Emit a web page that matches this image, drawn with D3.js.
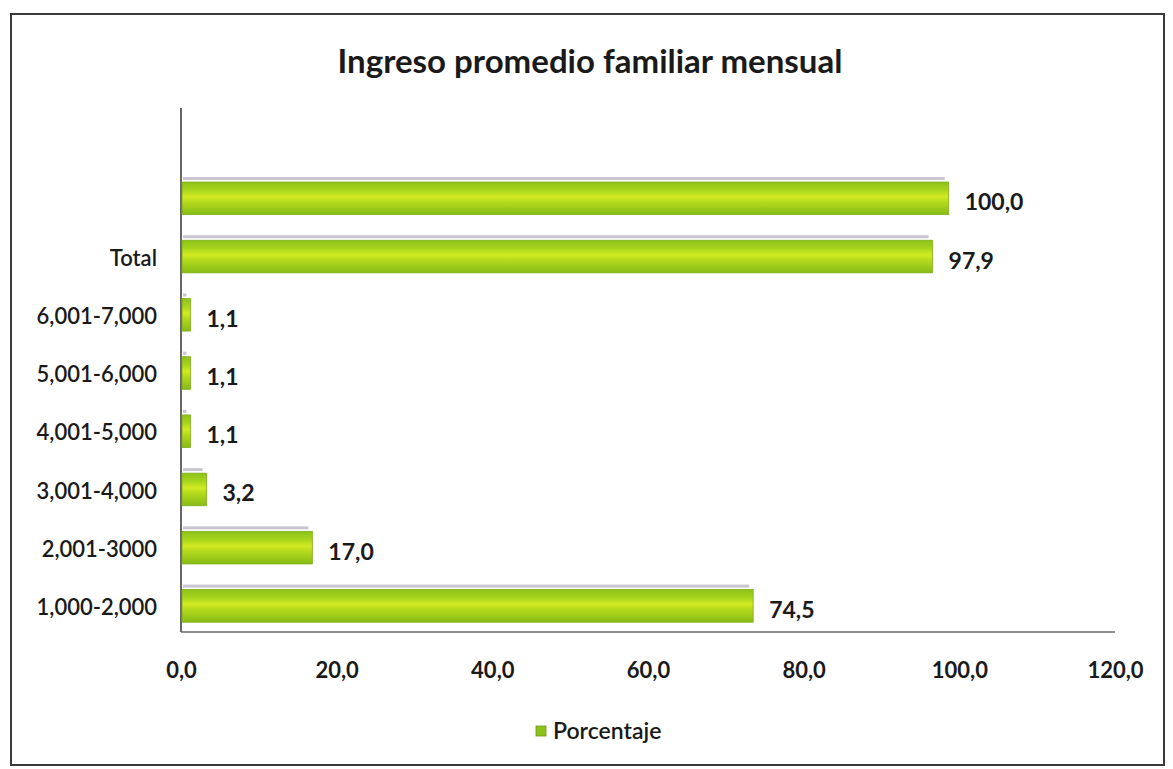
<!DOCTYPE html>
<html>
<head>
<meta charset="utf-8">
<script src="https://cdn.jsdelivr.net/npm/d3@7"></script>
<style>
  html, body { margin: 0; padding: 0; background: #ffffff; }
  svg { display: block; }
  text { font-family: "Lato", "Open Sans", sans-serif; fill: #1a1a1a; }
</style>
</head>
<body>
<svg id="chart" width="1173" height="769"></svg>
<script>
// Income brackets, bottom to top; the top row is an unlabeled extra bar
const categories = ["1,000-2,000", "2,001-3000", "3,001-4,000", "4,001-5,000",
                    "5,001-6,000", "6,001-7,000", "Total", "", " "];
const porcentaje = [74.5, 17.0, 3.2, 1.1, 1.1, 1.1, 97.9, 100.0, null];
const xTicks = [0, 20, 40, 60, 80, 100, 120];
const title = "Ingreso promedio familiar mensual";
const seriesName = "Porcentaje";

const svg = d3.select("#chart");
const W = 1173, H = 769;
const margin = { left: 181, right: 58, top: 108, bottom: 137 };
const FS = 22;
// Bars are drawn with a slight perspective foreshortening against the axis
const depth = 0.985;

// Outer frame
svg.append("rect")
  .attr("x", 11).attr("y", 14)
  .attr("width", 1153).attr("height", 751)
  .attr("fill", "none").attr("stroke", "#3a3a3a").attr("stroke-width", 2);

// Gradient for the bars
const defs = svg.append("defs");
const grad = defs.append("linearGradient").attr("id", "barGrad")
  .attr("x1", 0).attr("y1", 0).attr("x2", 0).attr("y2", 1);
[[0, "#8cc21a"], [0.25, "#a8d51c"], [0.45, "#d2ea22"], [0.6, "#b6db1d"], [1, "#86bb17"]]
  .forEach(([o, c]) => grad.append("stop").attr("offset", o).attr("stop-color", c));

const x = d3.scaleLinear().domain([0, 120]).range([margin.left, W - margin.right]);
const rows = d3.range(categories.length);
const axisY = H - margin.bottom;
const y = d3.scaleBand().domain(rows)
  .range([axisY + 3, margin.top + 3]).paddingInner(0.44).paddingOuter(0.22);

// Axis lines
svg.append("line")
  .attr("x1", x(0)).attr("x2", x(0))
  .attr("y1", margin.top).attr("y2", axisY)
  .attr("stroke", "#333").attr("stroke-width", 1.5);
svg.append("line")
  .attr("x1", x(0)).attr("x2", x(120))
  .attr("y1", axisY).attr("y2", axisY)
  .attr("stroke", "#666").attr("stroke-width", 1.5);

// X axis tick labels
const fmt = v => d3.format(".1f")(v).replace(".", ",");
const xAxis = d3.axisBottom(x).tickValues(xTicks).tickFormat(fmt).tickSize(0).tickPadding(30);
const gx = svg.append("g").attr("transform", `translate(0,${axisY})`).call(xAxis);
gx.select(".domain").remove();
gx.selectAll("text").attr("font-size", FS).attr("font-weight", 700)
  .attr("font-family", "Lato, 'Open Sans', sans-serif").attr("fill", "#1a1a1a");

// Y axis category labels
const yAxis = d3.axisLeft(y).tickFormat(i => categories[i]).tickSize(0).tickPadding(24);
const gy = svg.append("g").attr("transform", `translate(${x(0)},0)`).call(yAxis);
gy.select(".domain").remove();
gy.selectAll("text").attr("font-size", FS).attr("font-weight", 600)
  .attr("font-family", "Lato, 'Open Sans', sans-serif").attr("fill", "#1a1a1a")
  .attr("dy", "0.42em");

const data = rows.filter(i => porcentaje[i] != null)
  .map(i => ({ i, v: porcentaje[i] }));
const barW = v => (x(v) - x(0)) * depth;

// Thin shaded top face of each bar
svg.append("g").selectAll("rect").data(data).join("rect")
  .attr("x", x(0) + 2)
  .attr("y", d => y(d.i) - 5)
  .attr("width", d => Math.max(3, barW(d.v) - 5))
  .attr("height", 3)
  .attr("fill", "#c9c6d2");

// Bars
svg.append("g").selectAll("rect").data(data).join("rect")
  .attr("x", x(0) + 1)
  .attr("y", d => y(d.i))
  .attr("width", d => barW(d.v))
  .attr("height", y.bandwidth())
  .attr("fill", "url(#barGrad)")
  .attr("stroke", "#7fae18").attr("stroke-width", 0.8);

// Value labels
svg.append("g").selectAll("text").data(data).join("text")
  .attr("x", d => x(0) + barW(d.v) + 17)
  .attr("y", d => y(d.i) + y.bandwidth() / 2 + 4)
  .attr("dy", "0.35em")
  .attr("font-size", FS + 1).attr("font-weight", 700)
  .text(d => fmt(d.v));

// Title
svg.append("text")
  .attr("x", 590).attr("y", 73)
  .attr("text-anchor", "middle")
  .attr("font-size", 33).attr("font-weight", 700)
  .text(title);

// Legend
const lg = svg.append("g").attr("transform", "translate(536,726)");
lg.append("rect").attr("width", 10).attr("height", 10)
  .attr("fill", "#8cc21a").attr("stroke", "#6d9a12").attr("stroke-width", 0.8);
lg.append("text").attr("x", 17).attr("y", 5).attr("dy", "0.35em")
  .attr("font-size", FS + 1).attr("font-weight", 600)
  .text(seriesName);
</script>
</body>
</html>
